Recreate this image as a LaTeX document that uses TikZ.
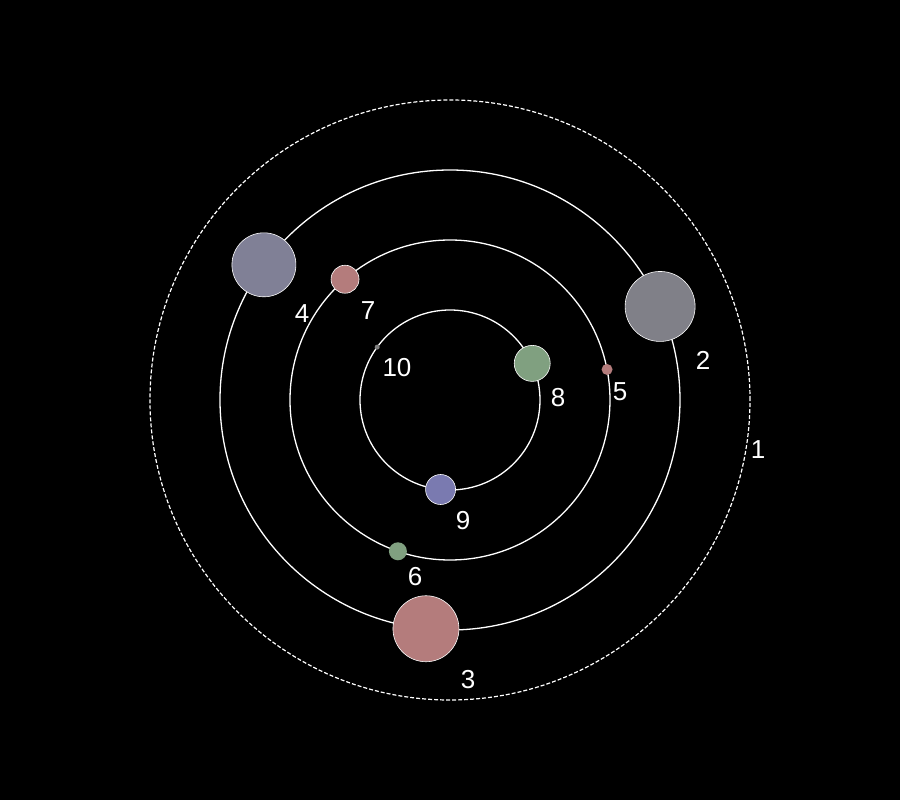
\documentclass[tikz,border=0pt]{standalone}
\usepackage{fontspec}
\setmainfont{Liberation Sans}
\definecolor{gray_blue}{RGB}{128,128,150}
\definecolor{gray_plain}{RGB}{128,128,136}
\definecolor{rose}{RGB}{180,124,124}
\definecolor{sage}{RGB}{128,160,128}
\definecolor{violet_blue}{RGB}{122,122,176}
\tikzset{
  orbit/.style = {draw=white, line width=1.3pt},
  outer_orbit/.style = {orbit, line width=1.2pt, dash pattern=on 4pt off 2pt},
  planet/.style = {circle, inner sep=0pt, draw=white, line width=0.6pt},% planete avec bord
  small_planet/.style = {circle, inner sep=0pt},% petite planete, sans bord
  tag/.style = {text=white, inner sep=0pt, font=\fontsize{26}{26}\selectfont},
}

\begin{document}
\begin{tikzpicture}[x=1pt,y=1pt]
\fill[black] (-450,-400) rectangle (450,400);
\coordinate (sun) at (0,0);

% orbites
\draw[outer_orbit] (sun) circle (300);
\draw[orbit] (sun) circle (230);
\draw[orbit] (sun) circle (160);
\draw[orbit] (sun) circle (90);

% planetes
\node[planet, fill=gray_blue, minimum size=64] (p4) at (144:230) {};
\node[planet, fill=gray_plain, minimum size=70] (p2) at (24:230) {};
\node[planet, fill=rose, minimum size=66] (p3) at (264:230) {};
\node[planet, fill=rose, minimum size=28] (p7) at (131:160) {};
\node[small_planet, fill=rose, minimum size=11] (p5) at (11:160) {};
\node[small_planet, fill=sage, minimum size=18] (p6) at (251:160) {};
\node[planet, fill=sage, minimum size=36] (p8) at (24:90) {};
\node[planet, fill=violet_blue, minimum size=30] (p9) at (264:90) {};
\node[small_planet, fill=gray, minimum size=5] (p10) at (144:90) {};

% etiquettes
\node[tag] (t1) at (308,-50) {1};
\node[tag] (t2) at (253,40) {2};
\node[tag] (t3) at (18,-280) {3};
\node[tag] (t4) at (-148,86) {4};
\node[tag] (t5) at (170,8) {5};
\node[tag] (t6) at (-35,-177) {6};
\node[tag] (t7) at (-82,89) {7};
\node[tag] (t8) at (108,2) {8};
\node[tag] (t9) at (13,-121) {9};
\node[tag] (t10) at (-53,32) {10};
\end{tikzpicture}
\end{document}
